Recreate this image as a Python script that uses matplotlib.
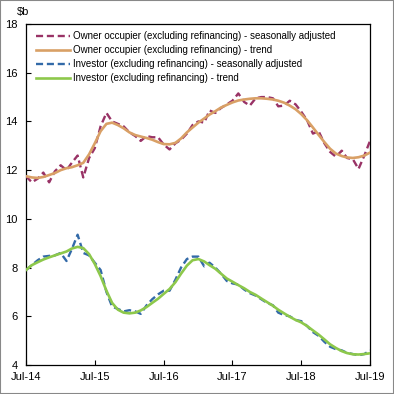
import matplotlib
matplotlib.use("Agg")
import matplotlib.pyplot as plt
import matplotlib.dates as mdates
import pandas as pd
from matplotlib.patches import Rectangle

start_month = "2014-07-01"
n_months = 61

owner_sa = [11.75, 11.5, 11.65, 11.9, 11.5, 11.95, 12.2, 12.0, 12.3, 12.6,
            11.7, 12.5, 12.9, 13.8, 14.35, 14.0, 13.9, 13.8, 13.55, 13.4,
            13.2, 13.4, 13.35, 13.35, 13.05, 12.85, 13.1, 13.25, 13.5, 13.85,
            14.0, 13.95, 14.45, 14.35, 14.55, 14.7, 14.85, 15.15, 14.8, 14.65,
            14.95, 15.0, 15.0, 14.95, 14.62, 14.65, 14.85, 14.7, 14.4, 14.05,
            13.5, 13.6, 13.1, 12.75, 12.55, 12.8, 12.5, 12.45, 12.05, 12.6,
            13.2]
owner_trend = [11.75, 11.7, 11.68, 11.72, 11.8, 11.88, 12.0, 12.08, 12.12, 12.2,
               12.3, 12.65, 13.1, 13.6, 13.9, 13.95, 13.85, 13.72, 13.55, 13.44,
               13.38, 13.32, 13.25, 13.15, 13.07, 13.06, 13.12, 13.3, 13.55, 13.75,
               13.95, 14.12, 14.28, 14.42, 14.57, 14.68, 14.78, 14.86, 14.9, 14.93,
               14.95, 14.95, 14.93, 14.9, 14.85, 14.77, 14.65, 14.5, 14.3, 14.05,
               13.75, 13.45, 13.15, 12.88, 12.68, 12.58, 12.52, 12.5, 12.53, 12.6,
               12.72]
investor_sa = [7.9, 8.1, 8.3, 8.45, 8.48, 8.5, 8.6, 8.27, 8.75, 9.35,
               8.6, 8.5, 8.2, 7.9, 7.0, 6.4, 6.3, 6.2, 6.25, 6.2,
               6.1, 6.45, 6.7, 6.9, 7.05, 7.05, 7.5, 8.0, 8.35, 8.45,
               8.45, 8.05, 8.2, 8.0, 7.75, 7.45, 7.35, 7.3, 7.1, 6.95,
               6.85, 6.7, 6.55, 6.45, 6.15, 6.05, 6.0, 5.85, 5.8, 5.6,
               5.35, 5.2, 4.95, 4.75, 4.65, 4.6, 4.5, 4.45, 4.4, 4.45,
               4.6]
investor_trend = [7.9, 8.1, 8.22, 8.33, 8.42, 8.5, 8.58, 8.66, 8.78, 8.85,
                  8.8, 8.55, 8.15, 7.65, 7.05, 6.55, 6.27, 6.15, 6.12, 6.15,
                  6.24, 6.38, 6.55, 6.72, 6.92, 7.12, 7.4, 7.75, 8.08, 8.3,
                  8.35, 8.25, 8.1, 7.95, 7.75, 7.55, 7.42, 7.28, 7.15, 7.0,
                  6.88, 6.73, 6.58, 6.43, 6.27, 6.12, 5.98, 5.85, 5.75, 5.6,
                  5.42, 5.25, 5.05, 4.85, 4.7, 4.57, 4.49, 4.44, 4.43, 4.45,
                  4.48]

labels = ["Owner occupier (excluding refinancing) - seasonally adjusted",
          "Owner occupier (excluding refinancing) - trend",
          "Investor (excluding refinancing) - seasonally adjusted",
          "Investor (excluding refinancing) - trend"]
y_ticks = [4, 6, 8, 10, 12, 14, 16, 18]
unit_label = "$b"

dates = pd.date_range(start_month, periods=n_months, freq="MS")

plt.rcParams['font.family'] = ['Liberation Sans', 'DejaVu Sans']

fig = plt.figure(figsize=(3.94, 3.94), dpi=100)
ax = fig.add_axes([26/394, 29/394, 344/394, 341/394])

dash = (3, 1.6)
lw = 1.7
ax.plot(dates, owner_sa, color="#993366", lw=lw, dashes=dash, label=labels[0], zorder=3)
ax.plot(dates, owner_trend, color="#D9A066", lw=lw + 0.2, label=labels[1], zorder=4)
ax.plot(dates, investor_sa, color="#336AA8", lw=lw, dashes=dash, label=labels[2], zorder=3)
ax.plot(dates, investor_trend, color="#8DC84B", lw=lw + 0.2, label=labels[3], zorder=4)

ax.set_xlim(dates[0], dates[-1])
ax.set_ylim(y_ticks[0], y_ticks[-1])
ax.set_yticks(y_ticks)
ax.set_xticks(dates[::12])
ax.xaxis.set_major_formatter(mdates.DateFormatter("%b-%y"))
ax.tick_params(direction="in", length=3.5, width=0.8, labelsize=8, colors="black")
ax.tick_params(axis="y", pad=6)
ax.tick_params(axis="x", pad=5)
for s in ax.spines.values():
    s.set_linewidth(0.9)
    s.set_color("black")

leg = ax.legend(loc="upper left", bbox_to_anchor=(0.024, 0.985), frameon=False,
                fontsize=7, handlelength=3.5, handletextpad=0.3,
                labelspacing=0.42, borderpad=0.2, borderaxespad=0)

fig.text(23/394, 1 - 12/394, unit_label, fontsize=8, ha="center", va="center")

fig.patches.append(Rectangle((0, 0), 1, 1, transform=fig.transFigure,
                             fill=False, edgecolor="#888888", lw=1.5))

fig.savefig("out.png", dpi=100)
